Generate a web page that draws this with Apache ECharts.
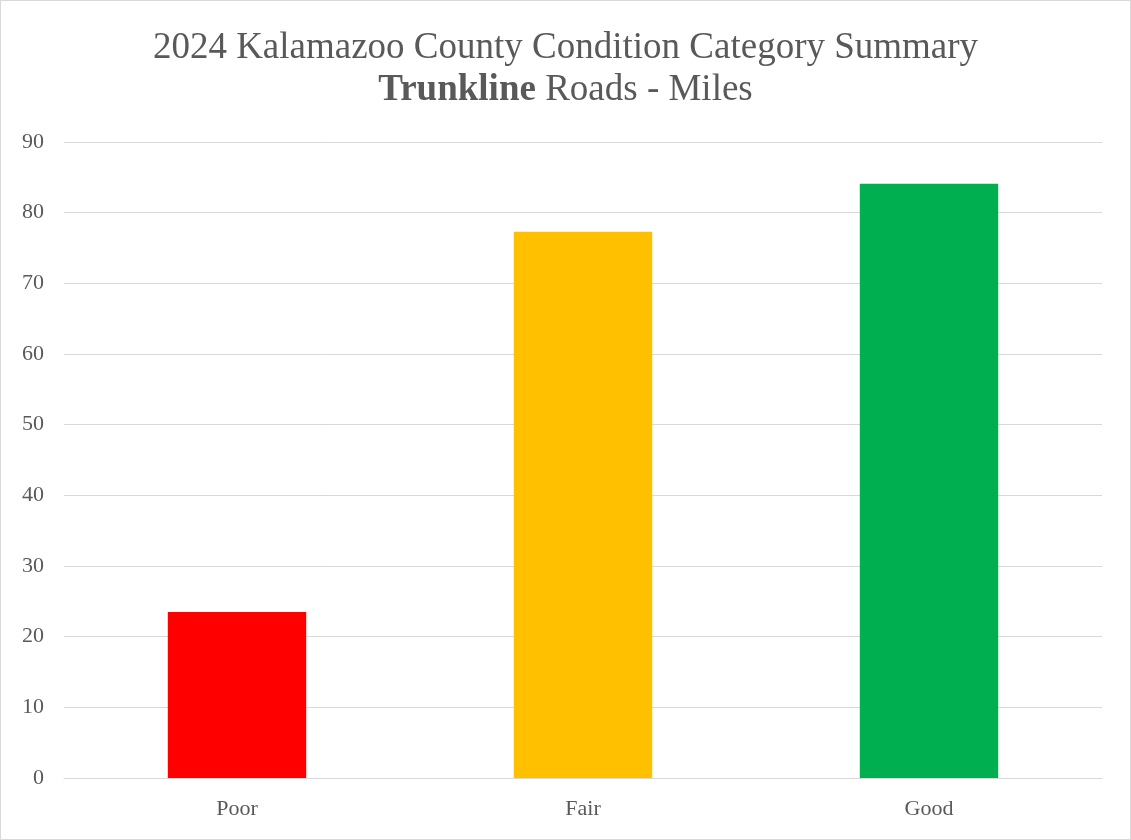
<!DOCTYPE html>
<html lang="en">
<head>
    <meta charset="UTF-8">
    <title>2024 Kalamazoo County Condition Category Summary</title>
    <script src="https://cdn.jsdelivr.net/npm/echarts@6/dist/echarts.min.js"></script>
    <style>
        html, body { margin: 0; padding: 0; background: #fff; }
        #chart {
            width: 1129px;
            height: 838px;
            border: 1px solid #d9d9d9;
        }
    </style>
</head>
<body>
    <div id="chart"></div>
    <script>
        var categories = ['Poor', 'Fair', 'Good'];
        var miles = [23.5, 77.3, 84.1];
        var barColors = ['#ff0000', '#ffc000', '#00b050'];

        var myChart = echarts.init(document.getElementById('chart'));
        var font = '"Liberation Serif", "DejaVu Serif", serif';

        var option = {
            title: {
                text: '2024 Kalamazoo County Condition Category Summary\n{b|Trunkline} Roads - Miles',
                left: 'center',
                top: 21,
                textStyle: {
                    fontFamily: font,
                    fontSize: 37,
                    fontWeight: 'normal',
                    color: '#595959',
                    lineHeight: 42,
                    rich: {
                        b: {
                            fontFamily: font,
                            fontSize: 37,
                            fontWeight: 'bold',
                            color: '#595959',
                            lineHeight: 42
                        }
                    }
                }
            },
            grid: {
                left: 63,
                right: 28,
                top: 141,
                bottom: 61,
                containLabel: false
            },
            xAxis: {
                type: 'category',
                data: categories,
                axisLine: { lineStyle: { color: '#d9d9d9', width: 1 } },
                axisTick: { show: false },
                axisLabel: {
                    color: '#595959',
                    fontFamily: font,
                    fontSize: 22,
                    margin: 20
                }
            },
            yAxis: {
                type: 'value',
                min: 0,
                max: 90,
                interval: 10,
                axisLine: { show: false },
                axisTick: { show: false },
                splitLine: { lineStyle: { color: '#d9d9d9', width: 1 } },
                axisLabel: {
                    color: '#595959',
                    fontFamily: font,
                    fontSize: 22,
                    margin: 20
                }
            },
            series: [{
                type: 'bar',
                barWidth: '40%',
                data: miles.map(function (v, i) {
                    return { value: v, itemStyle: { color: barColors[i] } };
                })
            }]
        };

        myChart.setOption(option);
    </script>
</body>
</html>
